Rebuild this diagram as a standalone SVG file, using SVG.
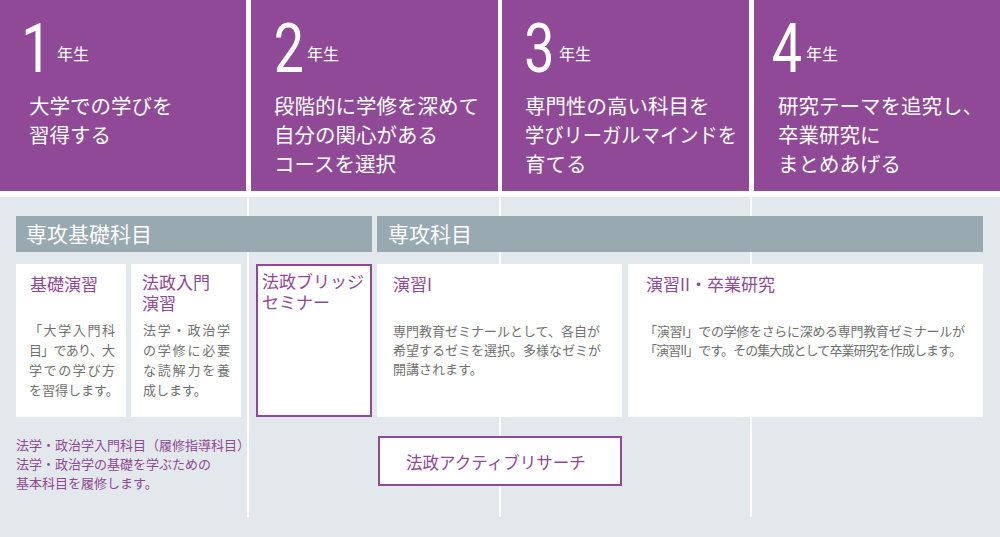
<svg xmlns="http://www.w3.org/2000/svg" width="1000" height="537" viewBox="0 0 1000 537">
<style>
  text { font-family: "Noto Sans CJK JP", "Noto Sans", sans-serif; }
  .panel { fill: #8f4996; }
  .num { font-family: Roboto, "Noto Sans", sans-serif; font-weight: 400; font-size: 69px; fill: #fff; text-anchor: middle; }
  .nen { font-size: 16px; fill: #fff; }
  .lead { font-size: 20.5px; fill: #fff; }
  .bar { fill: #98a9b2; }
  .bartxt { font-size: 21px; fill: #fff; }
  .card { fill: #fff; }
  .pcard { fill: #fff; stroke: #8f4996; stroke-width: 2; }
  .ttl { font-size: 17px; fill: #8f4996; }
  .body { font-size: 13px; fill: #707070; }
  .note { font-size: 13px; fill: #8f4996; }
  .vline { stroke: #fff; stroke-width: 2; }
</style>
<rect x="0" y="0" width="1000" height="537" fill="#fff"/>
<rect x="0" y="197" width="1000" height="340" fill="#e3e8ec"/>
<g id="grid">
  <line class="vline" x1="248" y1="197" x2="248" y2="517"/>
  <line class="vline" x1="500" y1="197" x2="500" y2="517"/>
  <line class="vline" x1="751" y1="197" x2="751" y2="517"/>
</g>
<g id="year1">
  <rect class="panel" x="0" y="0" width="246" height="191"/>
  <text class="num" transform="translate(36.5,72) scale(0.78,1)">1</text>
  <text class="nen" x="57" y="60">年生</text>
  <text class="lead" x="29" y="113.5">大学での学びを</text>
  <text class="lead" x="29" y="142.5">習得する</text>
</g>
<g id="year2">
  <rect class="panel" x="251" y="0" width="247" height="191"/>
  <text class="num" transform="translate(289,72) scale(0.78,1)">2</text>
  <text class="nen" x="307" y="60">年生</text>
  <text class="lead" x="274" y="113.5">段階的に学修を深めて</text>
  <text class="lead" x="274" y="142.5">自分の関心がある</text>
  <text class="lead" x="274" y="171.5">コースを選択</text>
</g>
<g id="year3">
  <rect class="panel" x="502" y="0" width="247" height="191"/>
  <text class="num" transform="translate(539.5,72) scale(0.78,1)">3</text>
  <text class="nen" x="559" y="60">年生</text>
  <text class="lead" x="525" y="113.5">専門性の高い科目を</text>
  <text class="lead" x="525" y="142.5" textLength="212" lengthAdjust="spacingAndGlyphs">学びリーガルマインドを</text>
  <text class="lead" x="525" y="171.5">育てる</text>
</g>
<g id="year4">
  <rect class="panel" x="754" y="0" width="246" height="191"/>
  <text class="num" transform="translate(787,72) scale(0.78,1)">4</text>
  <text class="nen" x="806" y="60">年生</text>
  <text class="lead" x="778" y="113.5">研究テーマを追究し、</text>
  <text class="lead" x="778" y="142.5">卒業研究に</text>
  <text class="lead" x="778" y="171.5">まとめあげる</text>
</g>
<g id="bar-basic">
  <rect class="bar" x="16" y="216" width="356" height="36"/>
  <text class="bartxt" x="26" y="242">専攻基礎科目</text>
</g>
<g id="bar-major">
  <rect class="bar" x="377" y="216" width="606" height="36"/>
  <text class="bartxt" x="388" y="242">専攻科目</text>
</g>
<g id="kiso-enshu">
  <rect class="card" x="16" y="264" width="110" height="153"/>
  <text class="ttl" x="30" y="291">基礎演習</text>
  <text class="body" x="29" y="335" textLength="86" lengthAdjust="spacing">「大学入門科</text>
  <text class="body" x="29" y="355" textLength="86" lengthAdjust="spacing">目」であり、大</text>
  <text class="body" x="29" y="375" textLength="86" lengthAdjust="spacing">学での学び方</text>
  <text class="body" x="29" y="395">を習得します。</text>
</g>
<g id="nyumon-enshu">
  <rect class="card" x="131" y="264" width="110" height="153"/>
  <text class="ttl" x="142" y="289">法政入門<tspan x="142" dy="21">演習</tspan></text>
  <text class="body" x="143" y="335" textLength="87" lengthAdjust="spacing">法学・政治学</text>
  <text class="body" x="143" y="355" textLength="87" lengthAdjust="spacing">の学修に必要</text>
  <text class="body" x="143" y="375" textLength="87" lengthAdjust="spacing">な読解力を養</text>
  <text class="body" x="143" y="395">成します。</text>
</g>
<g id="bridge">
  <rect class="pcard" x="257" y="265" width="114" height="151"/>
  <text class="ttl" x="262" y="288">法政ブリッジ<tspan x="262" dy="21">セミナー</tspan></text>
</g>
<g id="enshu1">
  <rect class="card" x="377" y="264" width="245" height="153"/>
  <text class="ttl" x="393" y="291">演習I</text>
  <text class="body" x="393" y="336">専門教育ゼミナールとして、各自が</text>
  <text class="body" x="393" y="355">希望するゼミを選択。多様なゼミが</text>
  <text class="body" x="393" y="374">開講されます。</text>
</g>
<g id="enshu2">
  <rect class="card" x="628" y="264" width="355" height="153"/>
  <text class="ttl" x="646" y="291">演習II・卒業研究</text>
  <text class="body" x="644" y="336" textLength="321" lengthAdjust="spacing">「演習I」での学修をさらに深める専門教育ゼミナールが</text>
  <text class="body" x="644" y="355" textLength="318" lengthAdjust="spacing">「演習II」です。その集大成として卒業研究を作成します。</text>
</g>
<g id="intro-note">
  <text class="note" x="16" y="450">法学・政治学入門科目（履修指導科目）</text>
  <text class="note" x="16" y="469">法学・政治学の基礎を学ぶための</text>
  <text class="note" x="16" y="488">基本科目を履修します。</text>
</g>
<g id="active-research">
  <rect class="pcard" x="379" y="437" width="242" height="48"/>
  <text class="ttl" x="406" y="469" style="font-size:16.5px">法政アクティブリサーチ</text>
</g>
<g id="connectors"></g>
</svg>
